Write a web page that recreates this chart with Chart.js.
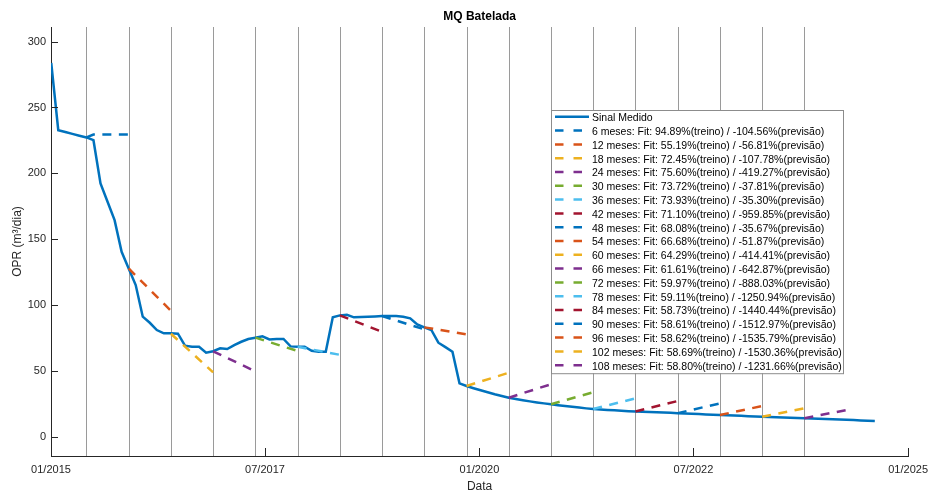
<!DOCTYPE html>
<html>
<head>
<meta charset="utf-8">
<script src="https://cdn.jsdelivr.net/npm/chart.js@4.4.1/dist/chart.umd.min.js"></script>
<style>
  html, body { margin: 0; padding: 0; background: #fff; }
  #wrap { width: 935px; height: 492px; }
</style>
</head>
<body>
<div id="wrap"><canvas id="grafico"></canvas></div>
<script>
// measured signal, one sample every 30 days
const dataInicial = '2015-01-02';
const passoDias = 30;
const sinalMedido = [
  283.8, 232.8, 231.4, 230.0, 228.6, 227.3, 225.2, 192.4, 178.5, 164.6,
  140.6, 128.0, 115.4, 91.4, 86.8, 81.3, 78.8, 78.8, 78.5, 69.4,
  68.6, 68.6, 64.1, 65.2, 67.4, 66.9, 69.9, 72.4, 74.5, 75.5,
  76.5, 74.2, 74.5, 74.5, 68.9, 68.6, 68.6, 65.6, 64.8, 64.8,
  90.9, 92.4, 92.9, 90.9, 91.2, 91.4, 91.6, 91.9, 91.9, 91.9,
  91.4, 90.2, 85.6, 83.3, 81.3, 71.7, 68.3, 64.8, 40.9, 38.9,
  37.2, 35.6, 34.1, 32.6, 31.3, 30.0, 29.0, 28.1, 27.2, 26.4,
  25.7, 25.0, 24.3, 23.7, 23.1, 22.5, 21.9, 21.4, 21.0, 20.7,
  20.4, 20.1, 19.8, 19.6, 19.4, 19.2, 19.0, 18.7, 18.5, 18.3,
  18.1, 17.8, 17.6, 17.3, 17.1, 16.9, 16.7, 16.5, 16.3, 16.0,
  15.8, 15.6, 15.4, 15.2, 15.0, 14.8, 14.6, 14.4, 14.2, 14.0,
  13.8, 13.6, 13.4, 13.2, 13.0, 12.8, 12.5, 12.3
];

// training windows (months) and fit results
const horizontes = [6, 12, 18, 24, 30, 36, 42, 48, 54, 60, 66, 72, 78, 84, 90, 96, 102, 108];
const fitTreino = [94.89, 55.19, 72.45, 75.60, 73.72, 73.93, 71.10, 68.08, 66.68, 64.29, 61.61, 59.97, 59.11, 58.73, 58.61, 58.62, 58.69, 58.80];
const fitPrevisao = [-104.56, -56.81, -107.78, -419.27, -37.81, -35.30, -959.85, -35.67, -51.87, -414.41, -642.87, -888.03, -1250.94, -1440.44, -1512.97, -1535.79, -1530.36, -1231.66];

// forecast over the next 6 samples after each cut (null = not read)
const previsoes = [
  [227.3, 229.5, null, null, null, null, 229.5],
  [128.0, null, null, null, null, null, 95.9],
  [78.5, null, null, null, null, null, 49.2],
  [65.2, null, null, null, null, null, 50.0],
  [75.5, null, null, null, null, null, 65.4],
  [68.6, null, null, null, null, null, 62.5],
  [92.4, null, null, null, null, null, 80.0],
  [91.9, null, null, null, null, null, 81.8],
  [83.3, null, null, null, null, null, 78.0],
  [38.9, null, null, null, null, null, 48.9],
  [30.0, null, null, null, null, null, 40.2],
  [25.0, null, null, null, null, null, 34.1],
  [21.4, null, null, null, null, null, 29.5],
  [19.6, null, null, null, null, null, 27.5],
  [18.3, null, null, null, null, null, 25.7],
  [16.9, null, null, null, null, null, 23.7],
  [15.6, null, null, null, null, null, 22.0],
  [14.4, null, null, null, null, null, 20.7]
];

const cores = ['#0072BD', '#D95319', '#EDB120', '#7E2F8E', '#77AC30', '#4DBEEE', '#A2142F'];

const rotulosX = ['01/2015', '07/2017', '01/2020', '07/2022', '01/2025'];
const datasX = ['2015-01-01', '2017-07-01', '2020-01-01', '2022-07-01', '2025-01-01'];
const ticksY = [0, 50, 100, 150, 200, 250, 300];

const FONT = '"Liberation Sans", Arial, Helvetica, sans-serif';
const AXIS_COLOR = '#262626';

const t0 = Date.parse('2015-01-01');
const toDays = s => (Date.parse(s) - t0) / 86400000;
const startDay = toDays(dataInicial);
const dayOf = i => startDay + i * passoDias;

const datasets = [{
  label: 'Sinal Medido',
  data: sinalMedido.map((v, i) => ({ x: dayOf(i), y: v })),
  borderColor: cores[0],
  backgroundColor: cores[0],
  borderWidth: 2.5,
  pointRadius: 0,
  tension: 0,
  order: 1
}];

previsoes.forEach((arr, j) => {
  const h = horizontes[j];
  const c = cores[j % cores.length];
  datasets.push({
    label: h + ' meses: Fit: ' + fitTreino[j].toFixed(2) + '%(treino) / ' + fitPrevisao[j].toFixed(2) + '%(previsão)',
    data: arr.map((v, k) => ({ x: dayOf(h - 1 + k), y: v })),
    borderColor: c,
    backgroundColor: c,
    borderWidth: 2.5,
    borderDash: [9, 7.5],
    pointRadius: 0,
    tension: 0,
    spanGaps: true,
    order: 0
  });
});

const extras = {
  id: 'extras',
  beforeDatasetsDraw(chart) {
    const ctx = chart.ctx, ca = chart.chartArea, xs = chart.scales.x;
    ctx.save();
    ctx.strokeStyle = '#9a9a9a';
    ctx.lineWidth = 1;
    horizontes.forEach(h => {
      const px = Math.round(xs.getPixelForValue(dayOf(h - 1))) + 0.5;
      ctx.beginPath();
      ctx.moveTo(px, ca.top);
      ctx.lineTo(px, ca.bottom);
      ctx.stroke();
    });
    ctx.restore();
  },
  afterDatasetsDraw(chart) {
    const ctx = chart.ctx, ca = chart.chartArea, xs = chart.scales.x, ys = chart.scales.y;
    ctx.save();
    // inward ticks
    ctx.strokeStyle = AXIS_COLOR;
    ctx.lineWidth = 1;
    ticksY.forEach(v => {
      const py = Math.round(ys.getPixelForValue(v)) + 0.5;
      ctx.beginPath(); ctx.moveTo(ca.left, py); ctx.lineTo(ca.left + 7, py); ctx.stroke();
    });
    datasX.forEach(d => {
      const px = Math.round(xs.getPixelForValue(toDays(d))) + 0.5;
      ctx.beginPath(); ctx.moveTo(px, ca.bottom); ctx.lineTo(px, ca.bottom - 8); ctx.stroke();
    });

    // titles
    const cx = (ca.left + ca.right) / 2;
    ctx.textAlign = 'center';
    ctx.textBaseline = 'middle';
    ctx.fillStyle = '#000';
    ctx.font = 'bold 12px ' + FONT;
    ctx.fillText('MQ Batelada', cx, 17);
    ctx.fillStyle = AXIS_COLOR;
    ctx.font = '12px ' + FONT;
    ctx.fillText('Data', cx, 487);
    ctx.save();
    ctx.translate(17.5, (ca.top + ca.bottom) / 2);
    ctx.rotate(-Math.PI / 2);
    ctx.fillText('OPR (m³/dia)', 0, 0);
    ctx.restore();

    // legend box
    const lx = ca.left + 500, ly = ca.top + 83, lw = 292, rowH = 13.8;
    const lh = datasets.length * rowH + 1;
    ctx.fillStyle = '#fff';
    ctx.fillRect(lx, ly, lw, lh);
    ctx.strokeStyle = '#8c8c8c';
    ctx.strokeRect(lx + 0.5, ly + 0.5, lw, lh);
    ctx.font = '10.5px ' + FONT;
    ctx.textAlign = 'left';
    chart.data.datasets.forEach((ds, i) => {
      const cy = ly + 8.3 + i * rowH;
      ctx.strokeStyle = ds.borderColor;
      ctx.lineWidth = 2.5;
      ctx.setLineDash(ds.borderDash ? [8.5, 10] : []);
      ctx.beginPath();
      ctx.moveTo(lx + 4, cy - 1.5);
      ctx.lineTo(lx + (ds.borderDash ? 31 : 38), cy - 1.5);
      ctx.stroke();
      ctx.setLineDash([]);
      ctx.fillStyle = '#000';
      ctx.fillText(ds.label, lx + 41, cy);
    });
    ctx.restore();
  }
};

new Chart(document.getElementById('grafico'), {
  type: 'line',
  data: { datasets: datasets },
  options: {
    responsive: true,
    maintainAspectRatio: false,
    animation: false,
    layout: { padding: { top: 27, right: 22, left: 0, bottom: 0 } },
    plugins: {
      legend: { display: false },
      title: { display: false },
      tooltip: { enabled: false }
    },
    scales: {
      x: {
        type: 'linear',
        min: 0,
        max: toDays('2025-01-01'),
        afterBuildTicks: s => { s.ticks = datasX.map(d => ({ value: toDays(d) })); },
        afterFit: s => { s.height = 36; },
        grid: { display: false, drawTicks: false, tickLength: 0 },
        border: { display: true, color: AXIS_COLOR, width: 1 },
        ticks: {
          autoSkip: false,
          maxRotation: 0,
          padding: 7,
          color: AXIS_COLOR,
          font: { family: FONT, size: 11 },
          callback: v => rotulosX[datasX.findIndex(d => toDays(d) === v)]
        }
      },
      y: {
        type: 'linear',
        min: -14.2,
        max: 311,
        afterBuildTicks: s => { s.ticks = ticksY.map(v => ({ value: v })); },
        afterFit: s => { s.width = 51; },
        grid: { display: false, drawTicks: false, tickLength: 0 },
        border: { display: true, color: AXIS_COLOR, width: 1 },
        ticks: {
          padding: 5,
          color: AXIS_COLOR,
          font: { family: FONT, size: 11 }
        }
      }
    }
  },
  plugins: [extras]
});
</script>
</body>
</html>
